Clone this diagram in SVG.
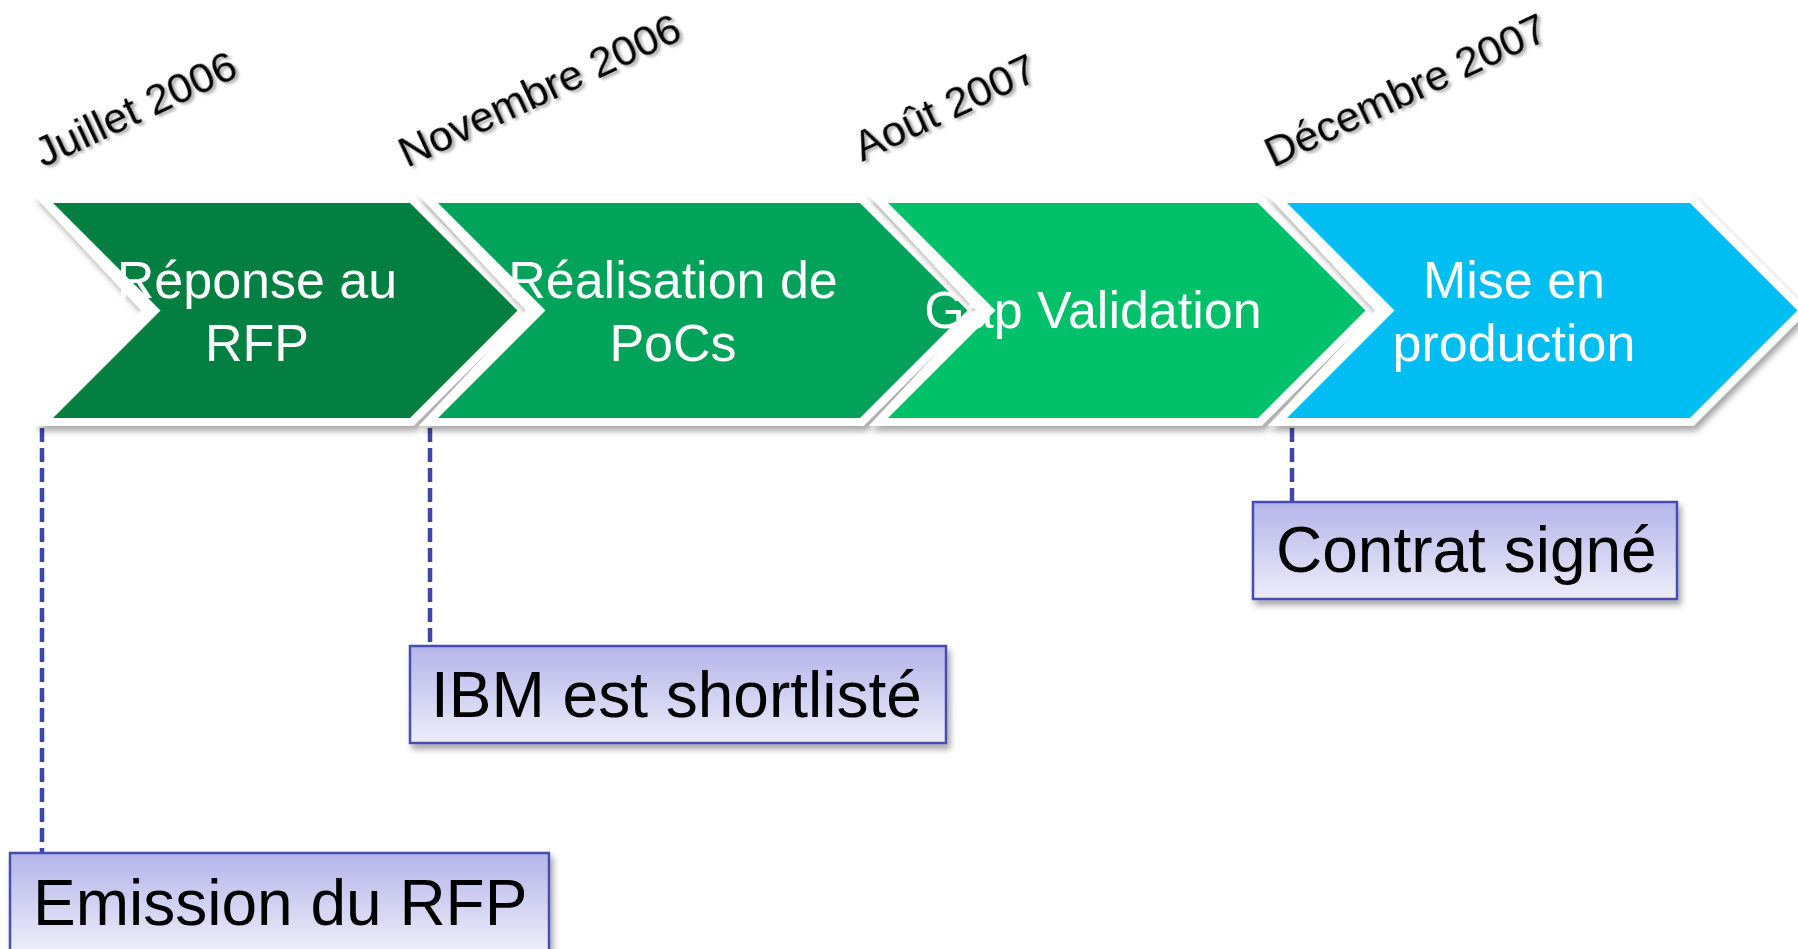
<svg xmlns="http://www.w3.org/2000/svg" width="1798" height="949" viewBox="0 0 1798 949">
  <defs>
    <filter id="shadow" x="-10%" y="-10%" width="130%" height="140%">
      <feDropShadow dx="3" dy="5" stdDeviation="3" flood-color="#000" flood-opacity="0.35"/>
    </filter>
    <filter id="tshadow" x="-10%" y="-20%" width="130%" height="150%">
      <feDropShadow dx="2" dy="3" stdDeviation="1.5" flood-color="#000" flood-opacity="0.35"/>
    </filter>
    <linearGradient id="boxgrad" x1="0" y1="0" x2="0" y2="1">
      <stop offset="0" stop-color="#B4B4EA"/>
      <stop offset="1" stop-color="#EDEDFA"/>
    </linearGradient>
    <style>
      .outer { fill: #FFFFFF; filter: url(#shadow); }
      .c1 { fill: #047F42; }
      .c2 { fill: #00A359; }
      .c3 { fill: #00C169; }
      .c4 { fill: #00BEF2; }
      .ctext { font-family: "Liberation Sans", Arial, sans-serif; font-size: 52px; fill: #FFFFFF; text-anchor: middle; }
      .date { font-family: "Liberation Sans", Arial, sans-serif; font-size: 43px; fill: #000000; filter: url(#tshadow); }
      .box { fill: url(#boxgrad); stroke: #464DB3; stroke-width: 2.5; filter: url(#shadow); }
      .btext { font-family: "Liberation Sans", Arial, sans-serif; font-size: 64px; fill: #000000; }
      .dash { stroke: #3E46A8; stroke-width: 4.5; stroke-dasharray: 14 6; fill: none; }
    </style>
  </defs>
  <rect width="1798" height="949" fill="#FFFFFF"/>

  <g id="dates">
    <text class="date" transform="translate(43,168) rotate(-25)">Juillet 2006</text>
    <text class="date" transform="translate(407,168) rotate(-25)">Novembre 2006</text>
    <text class="date" transform="translate(862,162) rotate(-25)">Août 2007</text>
    <text class="date" transform="translate(1273,168) rotate(-25)">Décembre 2007</text>
  </g>

  <g id="connectors">
    <line class="dash" x1="42" y1="428" x2="42" y2="853"/>
    <line class="dash" x1="430" y1="428" x2="430" y2="646"/>
    <line class="dash" x1="1292" y1="428" x2="1292" y2="502"/>
  </g>

  <g id="phase1">
    <polygon class="outer" points="33.7,195 413.3,195 528.8,310.5 413.3,426 33.7,426 141.2,310.5"/>
    <polygon class="c1" points="53,203 410,203 517.5,310.5 410,418 53,418 160.5,310.5"/>
  </g>
  <g id="phase2">
    <polygon class="outer" points="418.7,195 863.3,195 978.8,310.5 863.3,426 418.7,426 526.2,310.5"/>
    <polygon class="c2" points="438,203 860,203 967.5,310.5 860,418 438,418 545.5,310.5"/>
  </g>
  <g id="phase3">
    <polygon class="outer" points="868.7,195 1261.3,195 1376.8,310.5 1261.3,426 868.7,426 976.2,310.5"/>
    <polygon class="c3" points="888,203 1258,203 1365.5,310.5 1258,418 888,418 995.5,310.5"/>
  </g>
  <g id="phase4">
    <polygon class="outer" points="1267.7,195 1693.3,195 1808.8,310.5 1693.3,426 1267.7,426 1375.2,310.5"/>
    <polygon class="c4" points="1287,203 1690,203 1797.5,310.5 1690,418 1287,418 1394.5,310.5"/>
  </g>

  <g id="phase-labels">
    <text class="ctext" x="257" y="298">Réponse au</text>
    <text class="ctext" x="257" y="361">RFP</text>
    <text class="ctext" x="673" y="298">Réalisation de</text>
    <text class="ctext" x="673" y="361">PoCs</text>
    <text class="ctext" x="1093" y="328">Gap Validation</text>
    <text class="ctext" x="1514" y="298">Mise en</text>
    <text class="ctext" x="1514" y="361">production</text>
  </g>

  <g id="milestone-emission">
    <rect class="box" x="10" y="853" width="539" height="98"/>
    <text class="btext" x="33" y="925">Emission du RFP</text>
  </g>
  <g id="milestone-ibm">
    <rect class="box" x="410" y="646" width="536" height="97"/>
    <text class="btext" x="431" y="717">IBM est shortlisté</text>
  </g>
  <g id="milestone-contrat">
    <rect class="box" x="1253" y="502" width="424" height="97"/>
    <text class="btext" x="1276" y="572">Contrat signé</text>
  </g>
</svg>
